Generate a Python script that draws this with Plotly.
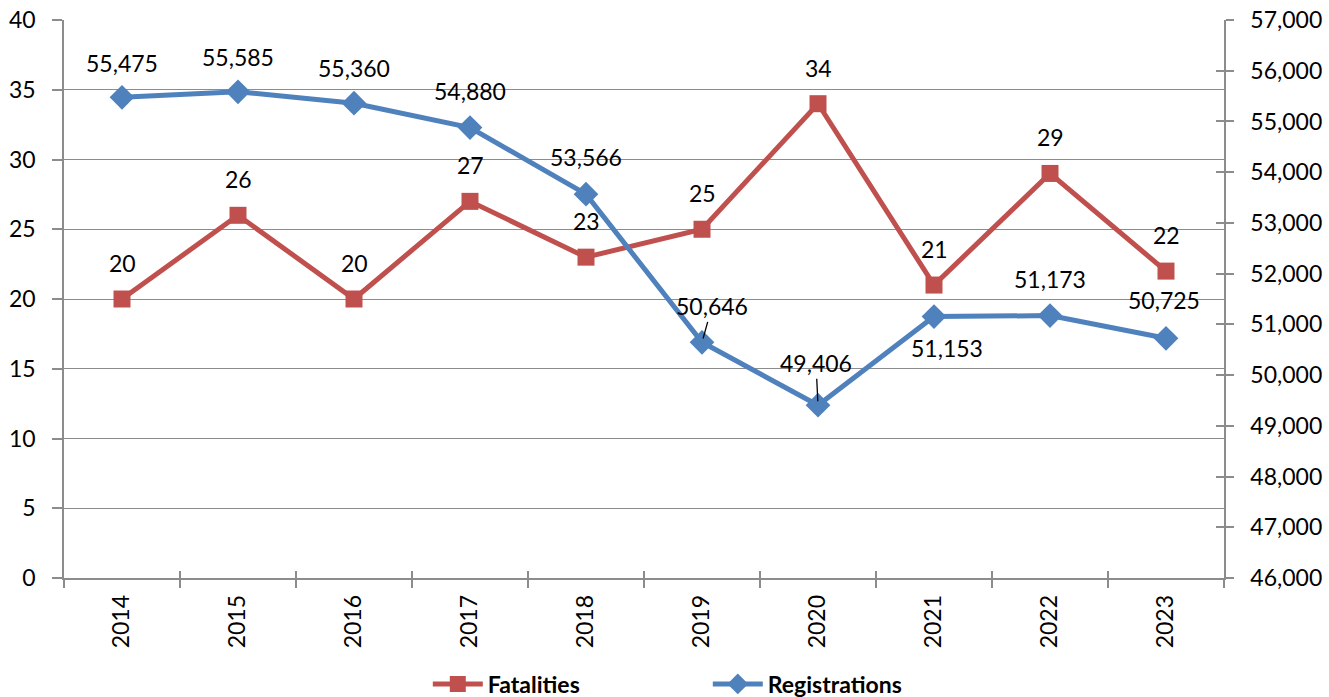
import plotly.graph_objects as go

years = ["2014", "2015", "2016", "2017", "2018", "2019", "2020", "2021", "2022", "2023"]
fatalities = [20, 26, 20, 27, 23, 25, 34, 21, 29, 22]
registrations = [55475, 55585, 55360, 54880, 53566, 50646, 49406, 51153, 51173, 50725]

left_ticks = [0, 5, 10, 15, 20, 25, 30, 35, 40]
right_ticks = [46000 + 1000 * i for i in range(12)]

# label offsets (pixels) for the registration labels: (dx, dy, leader line)
reg_label_style = [(0, -34, False), (0, -35, False), (0, -35, False), (0, -37, False),
                   (0, -37, False), (10, -36, True), (-2, -42, True), (13, 31, False),
                   (0, -37, False), (-2, -38, False)]

RED = "#C0504D"
BLUE = "#4F81BD"
GRID = "#8C8C8C"
FONT = "Lato"
FS = 23

fig = go.Figure()
fig.add_trace(go.Scatter(
    x=years, y=fatalities, name="Fatalities", mode="lines+markers",
    line=dict(color=RED, width=5),
    marker=dict(symbol="square", size=17, color=RED),
    yaxis="y", xaxis="x", hoverinfo="x+y"))
fig.add_trace(go.Scatter(
    x=years, y=registrations, name="Registrations", mode="lines+markers",
    line=dict(color=BLUE, width=5),
    marker=dict(symbol="diamond", size=19, color=BLUE),
    yaxis="y2", xaxis="x", hoverinfo="x+y"))
# helper traces carrying the inner half of the cross tick marks
fig.add_trace(go.Scatter(x=years, y=registrations, yaxis="y3", xaxis="x",
                         mode="none", showlegend=False, hoverinfo="skip"))
fig.add_trace(go.Scatter(x=years, y=fatalities, yaxis="y", xaxis="x2",
                         mode="none", showlegend=False, hoverinfo="skip"))

annotations = []
for i, v in enumerate(fatalities):
    annotations.append(dict(x=i, y=v, xref="x", yref="y", text=str(v),
                            showarrow=False, yshift=36,
                            font=dict(family=FONT, size=FS, color="black")))
for i, (v, (dx, dy, lead)) in enumerate(zip(registrations, reg_label_style)):
    txt = f"{v:,}"
    if lead:
        annotations.append(dict(x=i, y=v, xref="x", yref="y2", text=txt,
                                showarrow=True, arrowhead=0, arrowwidth=1.3,
                                arrowcolor="black", ax=dx, ay=dy, standoff=4,
                                font=dict(family=FONT, size=FS, color="black")))
    else:
        annotations.append(dict(x=i, y=v, xref="x", yref="y2", text=txt,
                                showarrow=False, xshift=dx, yshift=-dy,
                                font=dict(family=FONT, size=FS, color="black")))

fig.update_layout(
    width=1329, height=697,
    margin=dict(l=64, r=105, t=20, b=119, autoexpand=False),
    paper_bgcolor="white", plot_bgcolor="white",
    font=dict(family=FONT, size=FS, color="black"),
    showlegend=True,
    legend=dict(orientation="h", x=0.555, xanchor="center", y=-0.19, yanchor="middle",
                font=dict(family=FONT, size=23, color="black", weight="bold"),
                entrywidth=215, entrywidthmode="pixels", itemwidth=50,
                bgcolor="rgba(0,0,0,0)"),
    xaxis=dict(type="category", range=[-0.5, 9.5], tickangle=-90,
               tickson="boundaries", ticks="outside", ticklen=8, tickcolor=GRID, tickwidth=1.5,
               showline=True, linecolor=GRID, linewidth=1.5, showgrid=False,
               tickfont=dict(family=FONT, size=FS), ticklabelstandoff=6),
    xaxis2=dict(type="category", range=[-0.5, 9.5], overlaying="x", anchor="y", side="bottom",
                tickson="boundaries", ticks="inside", ticklen=7, tickcolor=GRID, tickwidth=1.5,
                showticklabels=False, showline=False, showgrid=False),
    yaxis=dict(range=[0, 40], tickvals=left_ticks, ticks="outside", ticklen=10,
               tickcolor=GRID, tickwidth=1.5, showline=True, linecolor=GRID, linewidth=1.5,
               showgrid=True, gridcolor=GRID, gridwidth=1.3, zeroline=False,
               tickfont=dict(family=FONT, size=FS), ticklabelstandoff=12),
    yaxis2=dict(range=[46000, 57000], tickvals=right_ticks, tickformat=",d",
                overlaying="y", side="right", anchor="x",
                ticks="outside", ticklen=8, tickcolor=GRID, tickwidth=1.5,
                showline=True, linecolor=GRID, linewidth=1.5, showgrid=False, zeroline=False,
                tickfont=dict(family=FONT, size=FS), ticklabelstandoff=12),
    yaxis3=dict(range=[46000, 57000], tickvals=right_ticks, overlaying="y", side="right",
                anchor="x", ticks="inside", ticklen=8, tickcolor=GRID, tickwidth=1.5,
                showticklabels=False, showline=False, showgrid=False, zeroline=False),
    annotations=annotations,
)

fig.write_html("out.html", config={"displayModeBar": False},
               post_script="document.body.style.margin='0';")
